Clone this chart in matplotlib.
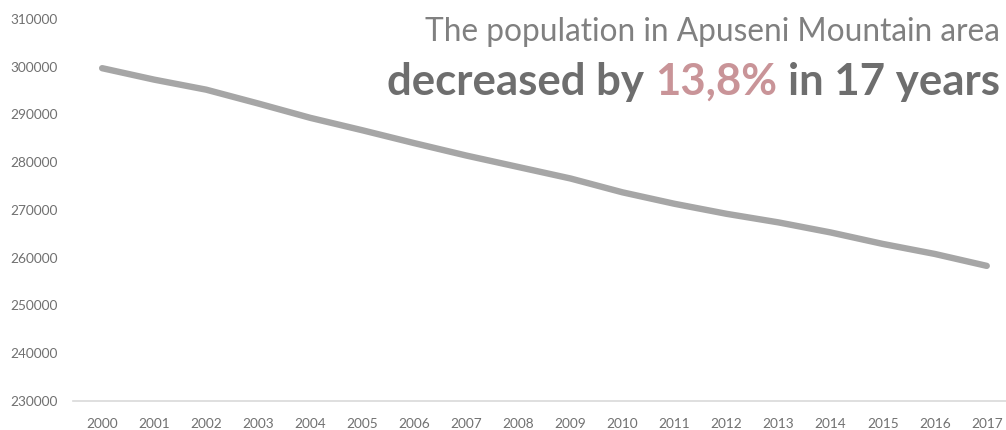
import matplotlib.pyplot as plt
import numpy as np

# population of the Apuseni Mountain area
years = [str(y) for y in range(2000, 2018)]
population = [299700, 297300, 295200, 292300, 289300, 286700, 284000, 281400,
              279000, 276600, 273700, 271300, 269200, 267400, 265300, 262900,
              260800, 258300]
y_ticks = list(range(230000, 310001, 10000))

title_top = "The population in Apuseni Mountain area"
title_parts = ["decreased by", "13,8%", "in 17 years"]
title_colors = ["#6e6e6e", "#c99498", "#6e6e6e"]

plt.rcParams['font.family'] = ['Lato', 'DejaVu Sans']

fig = plt.figure(figsize=(10.06, 4.30), dpi=100)
ax = fig.add_axes([73 / 1006, 1 - 401 / 430, 933 / 1006, 382 / 430])

x = np.arange(len(years))
ax.plot(x, population, color="#a6a6a6", lw=4.6, solid_capstyle="round",
        solid_joinstyle="round")

ax.set_xlim(-0.56, 17.37)
ax.set_ylim(y_ticks[0], y_ticks[-1])
ax.set_xticks(x)
ax.set_xticklabels(years)
ax.set_yticks(y_ticks)
ax.set_yticklabels([str(t) for t in y_ticks])
ax.tick_params(axis="both", length=0, labelsize=9.8, labelcolor="#707070")
ax.tick_params(axis="y", pad=11)
ax.tick_params(axis="x", pad=12)
for side in ["top", "left", "right"]:
    ax.spines[side].set_visible(False)
ax.spines["bottom"].set_color("#d9d9d9")
ax.spines["bottom"].set_linewidth(1.2)

# titles, right aligned at the top right
right_px = 1000
fig.text(right_px / 1006, 1 - 41 / 430, title_top, ha="right", va="baseline",
         fontsize=22.8, color="#808080")

# second line is built from pieces so the percentage can have its own colour
renderer = fig.canvas.get_renderer()
cur = right_px
gap = 11
for part, col in zip(title_parts[::-1], title_colors[::-1]):
    t = fig.text(cur / 1006, 1 - 95 / 430, part, ha="right", va="baseline",
                 fontsize=31.5, fontweight="bold", color=col)
    cur -= t.get_window_extent(renderer).width + gap

fig.savefig("out.png", dpi=100)
